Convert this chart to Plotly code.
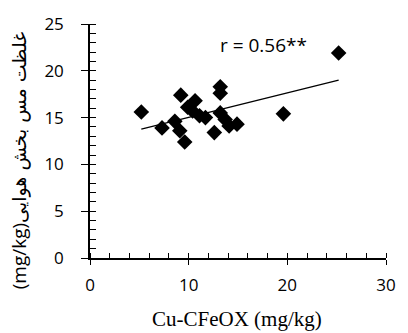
import numpy as np
import plotly.graph_objects as go

cu_cfeox = [5.2, 7.3, 8.6, 9.2, 9.1, 9.6, 9.9, 10.65, 10.4, 11.1, 11.7, 12.6, 13.2, 13.2, 13.2, 13.7, 14.1, 14.9, 19.6, 25.2]
cu_air = [15.6, 13.9, 14.6, 17.4, 13.6, 12.4, 16.1, 16.8, 15.7, 15.2, 15.0, 13.4, 18.3, 17.6, 15.5, 14.8, 14.1, 14.3, 15.4, 21.9]
x_ticks = [0, 10, 20, 30]
y_ticks = [0, 5, 10, 15, 20, 25]
r_label = "r = 0.56**"
x_title = "Cu-CFeOX (mg/kg)"
y_title_unit = "(mg/kg)"
y_title_fa = "غلظت مس بخش هوایی"

slope, intercept = np.polyfit(cu_cfeox, cu_air, 1)
xl = [min(cu_cfeox), max(cu_cfeox)]
yl = [slope * v + intercept for v in xl]

fig = go.Figure()
fig.add_trace(go.Scatter(x=cu_cfeox, y=cu_air, mode="markers",
                         marker=dict(symbol="diamond", size=12, color="black"),
                         showlegend=False))
fig.add_trace(go.Scatter(x=xl, y=yl, mode="lines", line=dict(color="black", width=1.3),
                         showlegend=False))
fig.add_trace(go.Scatter(x=[None], y=[None], xaxis="x2", yaxis="y2", showlegend=False))

L, R, T, B = 90, 16, 22, 75
W, H = 408, 333
pw, ph = W - L - R, H - T - B

tickfont = dict(family="Open Sans, Liberation Sans, sans-serif", size=17, color="black")
fig.update_layout(
    width=W, height=H,
    margin=dict(l=L, r=R, t=T, b=B),
    plot_bgcolor="white", paper_bgcolor="white",
    xaxis=dict(range=[0, 30], tickvals=x_ticks, ticks="outside", ticklen=5, tickwidth=1.3,
               tickcolor="black", showline=True, linecolor="black", linewidth=1.5,
               showgrid=False, zeroline=False, tickfont=tickfont, ticklabelstandoff=6,
               minor=dict(dtick=2, ticks="inside", ticklen=5, tickwidth=1.2, tickcolor="black")),
    yaxis=dict(range=[0, 25], tickvals=y_ticks, ticks="outside", ticklen=7, tickwidth=1.3,
               tickcolor="black", showline=True, linecolor="black", linewidth=1.5,
               showgrid=False, zeroline=False, tickfont=tickfont, ticklabelstandoff=14,
               minor=dict(dtick=1, ticks="inside", ticklen=6, tickwidth=1.2, tickcolor="black")),
    xaxis2=dict(overlaying="x", range=[0, 30], tickvals=x_ticks, ticks="inside", ticklen=5,
                tickwidth=1.3, tickcolor="black", showticklabels=False, showgrid=False,
                zeroline=False, showline=False, side="bottom"),
    yaxis2=dict(overlaying="y", range=[0, 25], tickvals=y_ticks, ticks="inside", ticklen=5,
                tickwidth=1.3, tickcolor="black", showticklabels=False, showgrid=False,
                zeroline=False, showline=False, side="left"),
    annotations=[
        dict(x=17.6, y=22.8, xref="x", yref="y", text=r_label, showarrow=False,
             font=dict(family="Open Sans, Liberation Sans, sans-serif", size=19, color="black")),
        dict(x=(240 - L) / pw, y=(T + ph - 320) / ph, xref="paper", yref="paper",
             xanchor="center", yanchor="middle", text=x_title, showarrow=False,
             font=dict(family="Liberation Serif, Times New Roman, serif", size=21, color="black")),
        dict(x=(17 - L) / pw, y=(T + ph - 160) / ph, xref="paper", yref="paper",
             xanchor="center", yanchor="middle",
             text='<span style="font-family:Open Sans;font-size:19px">' + y_title_unit + '</span>'
                  + '<span style="font-family:DejaVu Sans;font-size:19px">' + y_title_fa + '</span>',
             textangle=-90, showarrow=False,
             font=dict(family="Open Sans, Liberation Sans, sans-serif", size=19, color="black")),
    ],
)
fig.write_html("out.html")
